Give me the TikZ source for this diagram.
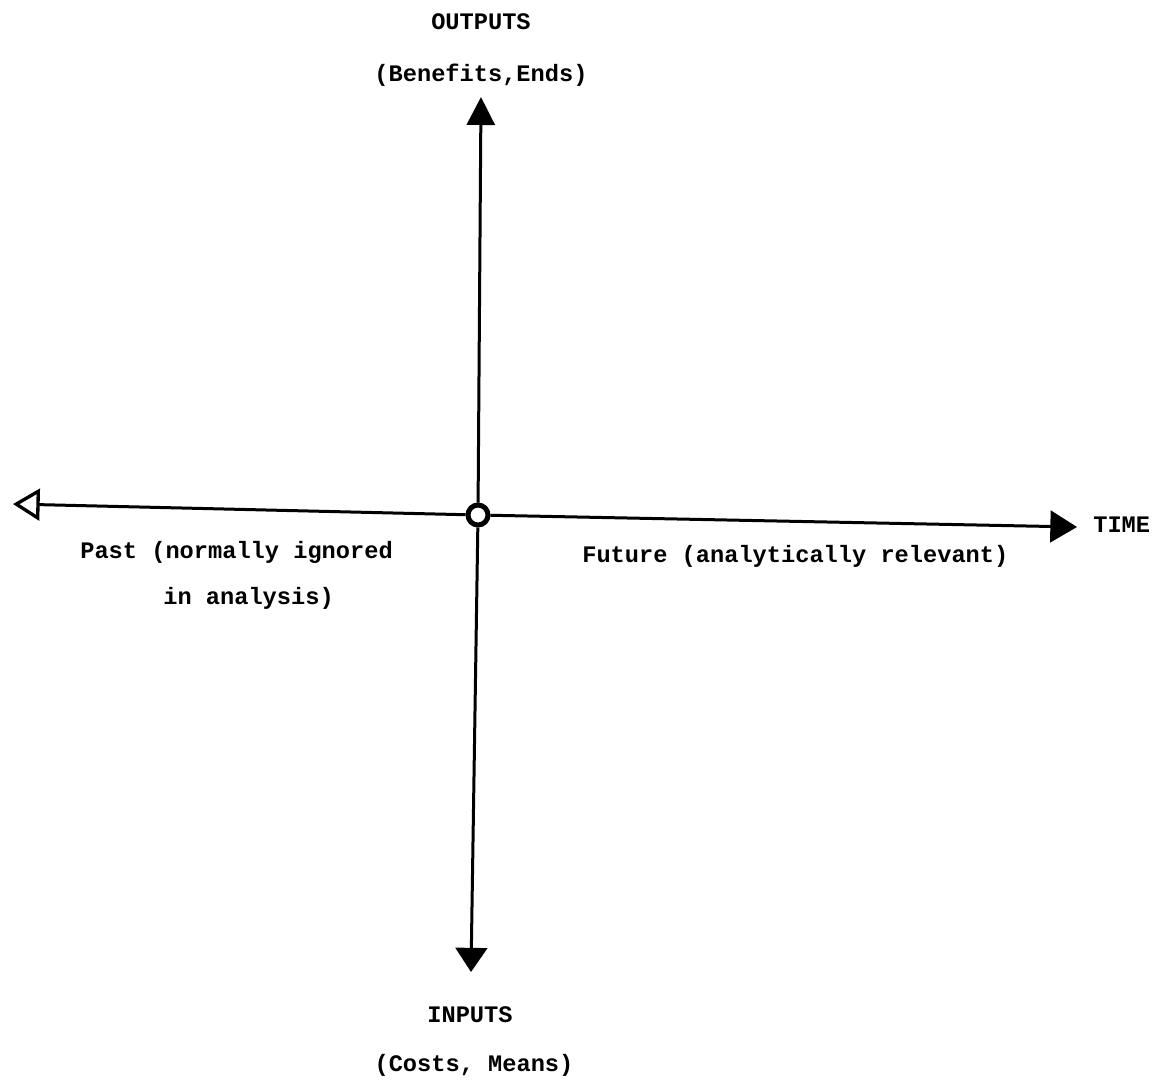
\documentclass[tikz,border=0pt]{standalone}
\usepackage{fontspec}
\setmonofont{Liberation Mono}
\usetikzlibrary{arrows.meta}
\begin{document}
\begin{tikzpicture}[x=0.6pt,y=-0.6pt,
  lbl/.style={font=\ttfamily\bfseries\fontsize{14.2}{17}\selectfont, inner sep=0pt},
  axis/.style={line width=1.8pt},
]
\useasboundingbox (0,0) rectangle (1167,1084);
\node[circle, draw, line width=3pt, minimum size=12pt, inner sep=0pt] (o) at (478,515) {};
\coordinate (top) at (481,97);
\coordinate (bot) at (471,972);
\coordinate (left) at (13,504);
\coordinate (right) at (1077,527);
\draw[axis, -{Triangle[length=16.8pt,width=16.8pt]}] (o) -- (top);
\draw[axis, -{Triangle[length=14.5pt,width=19pt]}] (o) -- (bot);
\draw[axis, -{Triangle[open,length=16pt,width=19pt,line width=2pt]}] (o) -- (left);
\draw[axis, -{Triangle[length=16pt,width=19pt]}] (o) -- (right);
\node[lbl] (outputs) at (481,22) {OUTPUTS};
\node[lbl] (benefits) at (481,75) {(Benefits,Ends)};
\node[lbl] (inputs) at (470,1015) {INPUTS};
\node[lbl] (costs) at (474,1065) {(Costs, Means)};
\node[lbl, anchor=west] (time) at (1093,525) {TIME};
\node[lbl, anchor=west] (past1) at (80,552) {Past (normally ignored};
\node[lbl, anchor=west] (past2) at (163,598) {in analysis)};
\node[lbl, anchor=west] (future) at (582,556) {Future (analytically relevant)};
\end{tikzpicture}
\end{document}
